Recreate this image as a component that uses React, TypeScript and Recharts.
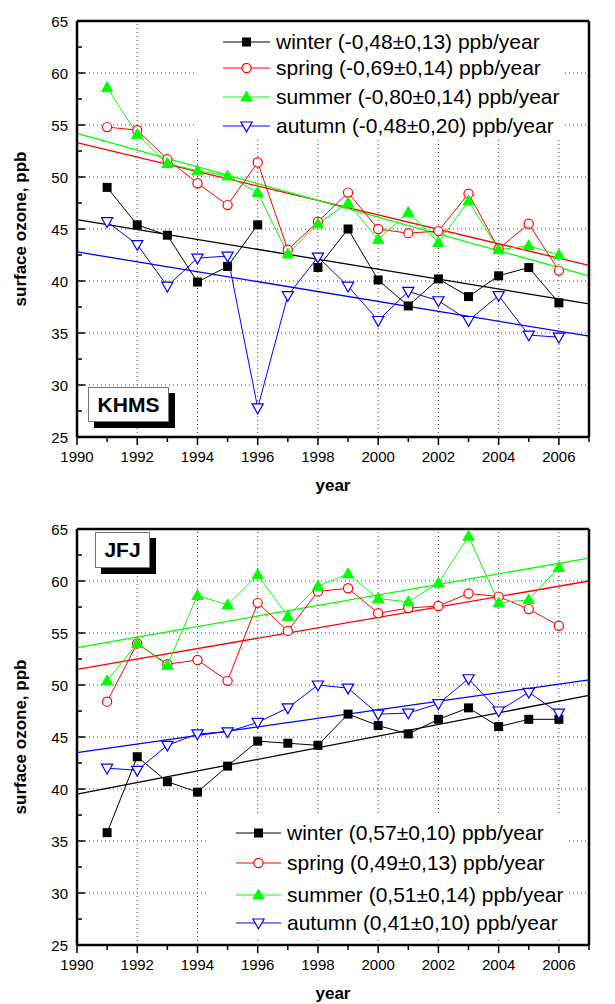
import React from "react";
import { ComposedChart, Line, XAxis, YAxis, ReferenceLine } from "recharts";

const years = [1991, 1992, 1993, 1994, 1995, 1996, 1997, 1998, 1999, 2000, 2001, 2002, 2003, 2004, 2005, 2006];
const tickYears = [1990, 1991, 1992, 1993, 1994, 1995, 1996, 1997, 1998, 1999, 2000, 2001, 2002, 2003, 2004, 2005, 2006, 2007];
const tickLevels = [25, 27.5, 30, 32.5, 35, 37.5, 40, 42.5, 45, 47.5, 50, 52.5, 55, 57.5, 60, 62.5, 65];
const gridYears = [1992, 1994, 1996, 1998, 2000, 2002, 2004, 2006];
const gridLevels = [30, 35, 40, 45, 50, 55, 60];
const trendYears = [1990, 2007];

// KHMS
const khmsWinter = [49.0, 45.4, 44.4, 39.9, 41.4, 45.4, null, 41.3, 45.0, 40.1, 37.6, 40.2, 38.5, 40.5, 41.3, 37.9];
const khmsSpring = [54.8, 54.5, 51.7, 49.4, 47.3, 51.4, 43.0, 45.7, 48.5, 45.0, 44.6, 44.8, 48.4, 43.1, 45.5, 41.0];
const khmsSummer = [58.6, 54.1, 51.3, 50.6, 50.1, 48.5, 42.6, 45.5, 47.5, 44.0, 46.6, 43.7, 47.7, 43.0, 43.4, 42.5];
const khmsAutumn = [45.7, 43.5, 39.5, 42.2, 42.4, 27.8, 38.6, 42.3, 39.5, 36.2, 39.0, 38.1, 36.2, 38.6, 34.8, 34.6];
const khmsTrends = [[45.9, 37.8], [53.3, 41.5], [54.2, 40.5], [42.8, 34.7]];
const khmsLegend = [
  "winter (-0,48±0,13) ppb/year",
  "spring (-0,69±0,14) ppb/year",
  "summer (-0,80±0,14) ppb/year",
  "autumn (-0,48±0,20) ppb/year",
];

// JFJ
const jfjWinter = [35.8, 43.1, 40.7, 39.7, 42.2, 44.6, 44.4, 44.2, 47.2, 46.1, 45.3, 46.7, 47.8, 46.0, 46.7, 46.7];
const jfjSpring = [48.4, 54.0, 52.0, 52.4, 50.4, 57.9, 55.2, 59.0, 59.3, 56.9, 57.4, 57.6, 58.8, 58.5, 57.3, 55.7];
const jfjSummer = [50.4, 54.0, 51.9, 58.6, 57.7, 60.6, 56.6, 59.5, 60.7, 58.3, 58.0, 59.8, 64.3, 57.9, 58.2, 61.3];
const jfjAutumn = [42.0, 41.8, 44.2, 45.3, 45.5, 46.4, 47.8, 50.0, 49.7, 47.2, 47.3, 48.2, 50.6, 47.5, 49.3, 47.3];
const jfjTrends = [[39.5, 49.0], [51.5, 60.0], [53.6, 62.2], [43.5, 50.5]];
const jfjLegend = [
  "winter (0,57±0,10) ppb/year",
  "spring (0,49±0,13) ppb/year",
  "summer (0,51±0,14) ppb/year",
  "autumn (0,41±0,10) ppb/year",
];

const seasons = ["winter", "spring", "summer", "autumn"];
const colors = ["#000000", "#ff0000", "#00ff00", "#0000ff"];
const kinds = ["square", "circle", "up", "down"];

const FONT = "'Liberation Sans', Arial, sans-serif";
const axisStyle = { stroke: "#000", strokeWidth: 2.5 };

const Marker = ({ kind, cx, cy }: { kind: string; cx: number; cy: number }) => {
  switch (kind) {
    case "square":
      return <rect x={cx - 4.5} y={cy - 4.5} width={9} height={9} fill="#000" />;
    case "circle":
      return <circle cx={cx} cy={cy} r={4.6} fill="#fff" stroke="#ff0000" strokeWidth={1.2} />;
    case "up":
      return <polygon points={`${cx},${cy - 5.8} ${cx + 5.6},${cy + 4} ${cx - 5.6},${cy + 4}`} fill="#00ff00" stroke="#00ff00" />;
    default:
      return <polygon points={`${cx - 5.6},${cy - 4} ${cx + 5.6},${cy - 4} ${cx},${cy + 5.8}`} fill="#fff" stroke="#0000ff" strokeWidth={1.2} />;
  }
};

const BottomTick = (p: any) => {
  const major = p.payload.value % 2 === 0;
  return (
    <g>
      <line x1={p.x} x2={p.x} y1={p.y} y2={p.y + (major ? 8 : 5)} stroke="#000" strokeWidth={1.5} />
      {major && (
        <text x={p.x} y={p.y + 25} textAnchor="middle" fontSize={15} fontFamily={FONT} fill="#000">
          {p.payload.value}
        </text>
      )}
    </g>
  );
};

const TopTick = (p: any) => {
  const major = p.payload.value % 2 === 0;
  return <line x1={p.x} x2={p.x} y1={p.y} y2={p.y + (major ? 8 : 5)} stroke="#000" strokeWidth={1.5} />;
};

const LeftTick = (p: any) => {
  const major = p.payload.value % 5 === 0;
  return (
    <g>
      <line x1={p.x} x2={p.x + (major ? 8 : 5)} y1={p.y} y2={p.y} stroke="#000" strokeWidth={1.5} />
      {major && (
        <text x={p.x - 9} y={p.y + 5.5} textAnchor="end" fontSize={15} fontFamily={FONT} fill="#000">
          {p.payload.value}
        </text>
      )}
    </g>
  );
};

const RightTick = (p: any) => {
  const major = p.payload.value % 5 === 0;
  return (
    <g>
      <line x1={p.x} x2={p.x - (major ? 8 : 5)} y1={p.y} y2={p.y} stroke="#000" strokeWidth={1.5} />
      {major && (
        <text x={p.x + 8} y={p.y + 5.5} textAnchor="start" fontSize={15} fontFamily={FONT} fill="#000">
          {p.payload.value}
        </text>
      )}
    </g>
  );
};

interface PanelProps {
  top: number;
  height: number;
  marginTop: number;
  axisHeight: number;
  yearOffset: number;
  series: (number | null)[][];
  trends: number[][];
}

function Panel({ top, height, marginTop, axisHeight, yearOffset, series, trends }: PanelProps) {
  const rows = years.map((year, i) => {
    const row: any = { year };
    seasons.forEach((s, k) => (row[s] = series[k][i]));
    return row;
  });

  return (
    <div style={{ position: "absolute", left: 0, top }}>
      <ComposedChart width={615} height={height} data={rows} margin={{ top: marginTop, right: 0, bottom: 0, left: 0 }}>
        <XAxis
          xAxisId="b"
          dataKey="year"
          type="number"
          domain={[1990, 2007]}
          ticks={tickYears}
          interval={0}
          height={axisHeight}
          tickSize={0}
          tickMargin={0}
          tickLine={false}
          axisLine={axisStyle}
          tick={(p: any) => <BottomTick {...p} />}
          label={{
            value: "year",
            position: "insideBottom",
            offset: yearOffset,
            style: { fontWeight: "bold", fontSize: 17, fill: "#000", fontFamily: FONT },
          }}
        />
        <XAxis
          xAxisId="t"
          orientation="top"
          type="number"
          domain={[1990, 2007]}
          ticks={tickYears}
          interval={0}
          height={1}
          tickSize={0}
          tickMargin={0}
          tickLine={false}
          axisLine={axisStyle}
          tick={(p: any) => <TopTick {...p} />}
        />
        <YAxis
          yAxisId="l"
          type="number"
          domain={[25, 65]}
          ticks={tickLevels}
          interval={0}
          width={77}
          tickSize={0}
          tickMargin={0}
          tickLine={false}
          axisLine={axisStyle}
          tick={(p: any) => <LeftTick {...p} />}
          label={{
            value: "surface ozone, ppb",
            angle: -90,
            position: "insideLeft",
            offset: 20,
            style: { textAnchor: "middle", fontWeight: "bold", fontSize: 17, fill: "#000", fontFamily: FONT },
          }}
        />
        <YAxis
          yAxisId="r"
          orientation="right"
          type="number"
          domain={[25, 65]}
          ticks={tickLevels}
          interval={0}
          width={26}
          tickSize={0}
          tickMargin={0}
          tickLine={false}
          axisLine={axisStyle}
          tick={(p: any) => <RightTick {...p} />}
        />
        {gridLevels.map((v) => (
          <ReferenceLine key={"h" + v} xAxisId="b" yAxisId="l" y={v} stroke="#444" strokeWidth={1} strokeDasharray="1 3" />
        ))}
        {gridYears.map((v) => (
          <ReferenceLine key={"v" + v} xAxisId="b" yAxisId="l" x={v} stroke="#444" strokeWidth={1} strokeDasharray="1 3" />
        ))}
        {trends.map((t, k) => (
          <Line
            key={"t" + k}
            xAxisId="b"
            yAxisId="l"
            data={trendYears.map((year, j) => ({ year, trend: t[j] }))}
            dataKey="trend"
            stroke={colors[k]}
            strokeWidth={1.3}
            dot={false}
            isAnimationActive={false}
          />
        ))}
        {seasons.map((s, k) => (
          <Line
            key={s}
            xAxisId="b"
            yAxisId="l"
            dataKey={s}
            stroke={colors[k]}
            strokeWidth={1}
            connectNulls={false}
            isAnimationActive={false}
            dot={(p: any) =>
              p.cy == null || p.value == null ? (
                <g key={s + p.index} />
              ) : (
                <g key={s + p.index}>
                  <Marker kind={kinds[k]} cx={p.cx} cy={p.cy} />
                </g>
              )
            }
          />
        ))}
      </ComposedChart>
    </div>
  );
}

interface LegendProps {
  box: { left: number; top: number; width: number; height: number };
  rowCenters: number[];
  labels: string[];
  symbolLeft: number;
  symbolWidth: number;
  textLeft: number;
}

function LegendBox({ box, rowCenters, labels, symbolLeft, symbolWidth, textLeft }: LegendProps) {
  return (
    <div style={{ position: "absolute", ...box, background: "#fff" }}>
      {labels.map((t, k) => (
        <React.Fragment key={t}>
          <svg
            width={symbolWidth}
            height={16}
            style={{ position: "absolute", left: symbolLeft - box.left, top: rowCenters[k] - box.top - 8 }}
          >
            <line x1={0} x2={symbolWidth} y1={8} y2={8} stroke={colors[k]} strokeWidth={1} />
            <Marker kind={kinds[k]} cx={symbolWidth / 2} cy={8} />
          </svg>
          <span
            style={{
              position: "absolute",
              left: textLeft - box.left,
              top: rowCenters[k] - box.top - 12,
              lineHeight: "24px",
              fontSize: 21,
              whiteSpace: "nowrap",
              color: "#000",
            }}
          >
            {t}
          </span>
        </React.Fragment>
      ))}
    </div>
  );
}

const StationTag = ({ text, left, top, width, height }: { text: string; left: number; top: number; width: number; height: number }) => (
  <div
    style={{
      position: "absolute",
      left,
      top,
      width,
      height,
      boxSizing: "border-box",
      background: "#fff",
      border: "1px solid #777",
      boxShadow: "6px 6px 0 0 #000",
      fontWeight: "bold",
      fontSize: 21,
      lineHeight: `${height - 2}px`,
      textAlign: "center",
      color: "#000",
    }}
  >
    {text}
  </div>
);

export default function App() {
  return (
    <div style={{ position: "absolute", left: 0, top: 0, width: 615, height: 1004, background: "#fff", fontFamily: FONT }}>
      <Panel
        top={0}
        height={500}
        marginTop={20}
        axisHeight={63}
        yearOffset={9}
        series={[khmsWinter, khmsSpring, khmsSummer, khmsAutumn]}
        trends={khmsTrends}
      />
      <Panel
        top={500}
        height={504}
        marginTop={28}
        axisHeight={59}
        yearOffset={5}
        series={[jfjWinter, jfjSpring, jfjSummer, jfjAutumn]}
        trends={jfjTrends}
      />
      <LegendBox
        box={{ left: 194, top: 23, width: 368, height: 114 }}
        rowCenters={[42, 68, 97, 126]}
        labels={khmsLegend}
        symbolLeft={223}
        symbolWidth={47}
        textLeft={276}
      />
      <LegendBox
        box={{ left: 207, top: 816, width: 362, height: 124 }}
        rowCenters={[833, 863, 895, 923]}
        labels={jfjLegend}
        symbolLeft={236}
        symbolWidth={45}
        textLeft={287}
      />
      <StationTag text="KHMS" left={88} top={387} width={81} height={35} />
      <StationTag text="JFJ" left={95} top={532} width={55} height={36} />
    </div>
  );
}
